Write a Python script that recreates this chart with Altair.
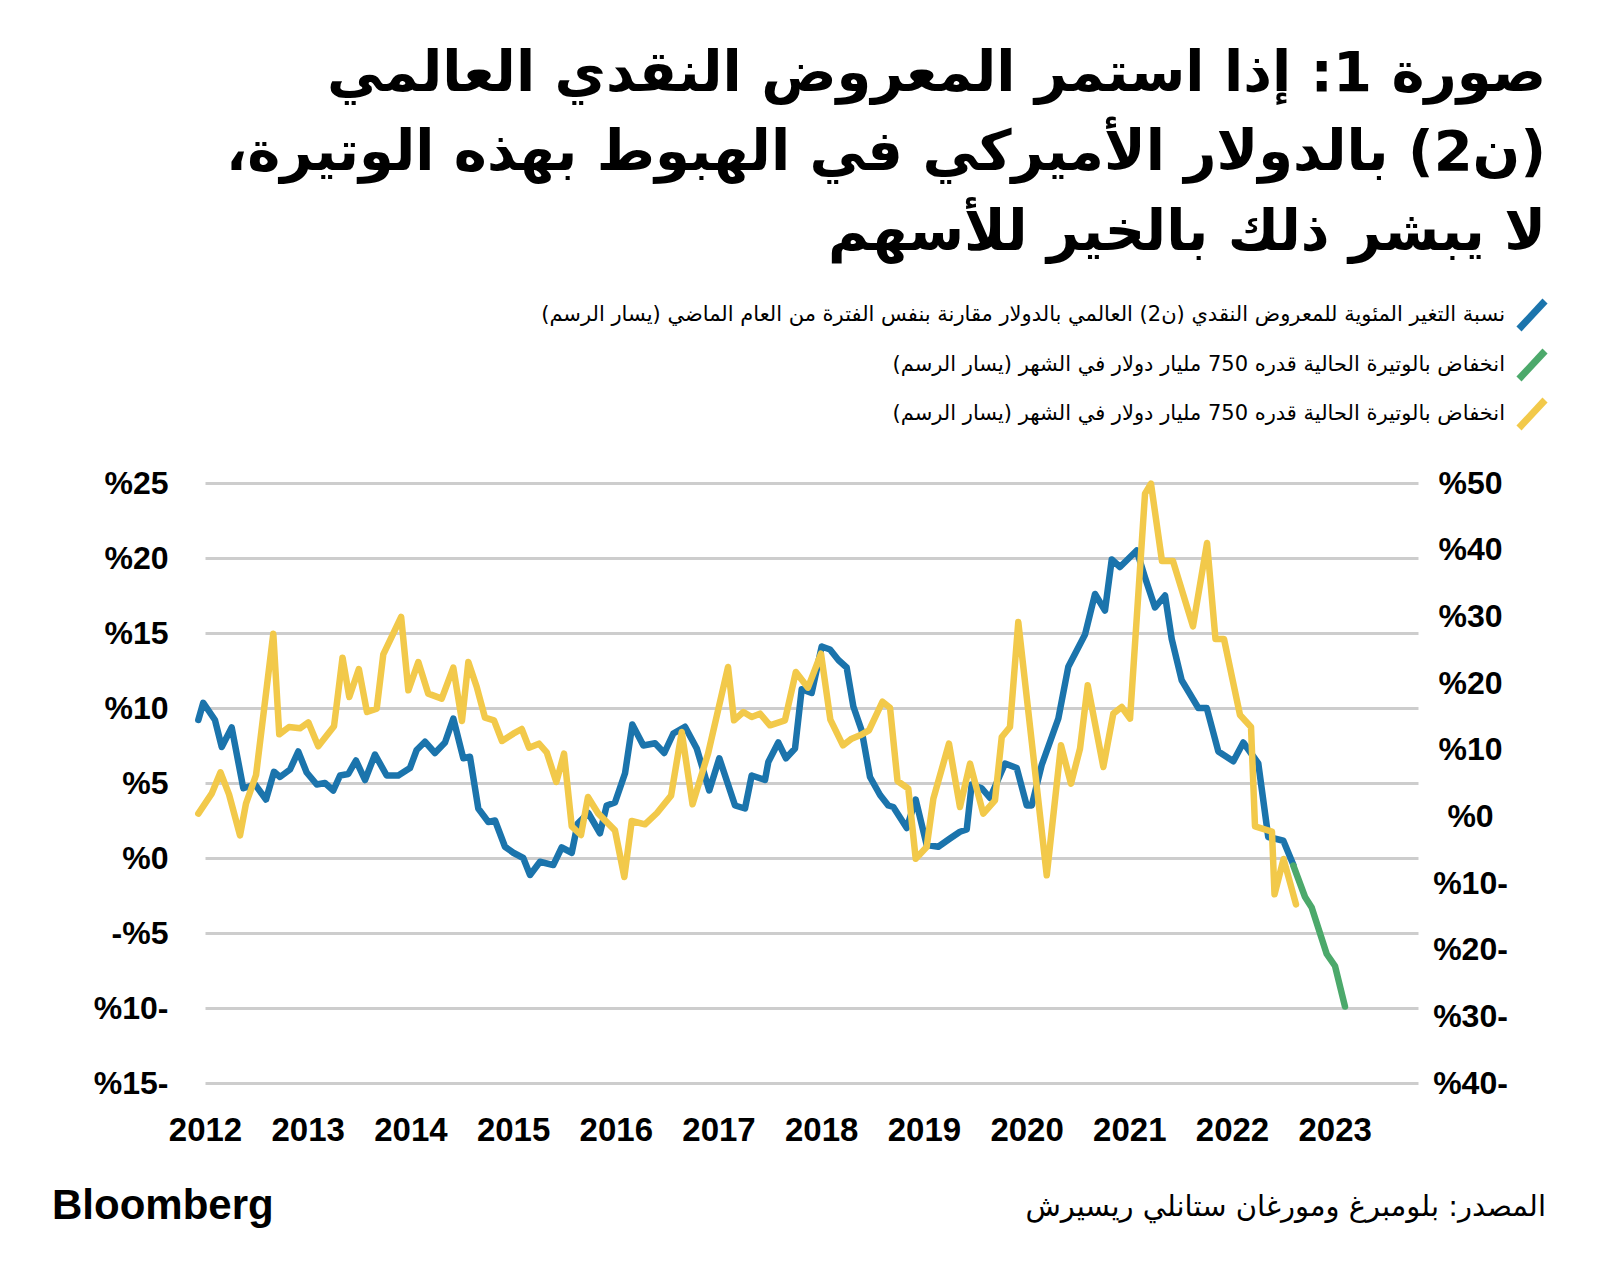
import altair as alt
import pandas as pd

# ---------------- data ----------------
years = list(range(2012, 2024))
left_ticks = [-15, -10, -5, 0, 5, 10, 15, 20, 25]
right_ticks = [-40, -30, -20, -10, 0, 10, 20, 30, 40, 50]

# Global M2 in USD, YoY % (left axis)
blue_t = [2011.935, 2011.983, 2012.097, 2012.163, 2012.260, 2012.373, 2012.487, 2012.594, 2012.672, 2012.730,
          2012.828, 2012.908, 2012.990, 2013.088, 2013.168, 2013.249, 2013.315, 2013.395, 2013.470, 2013.558,
          2013.655, 2013.769, 2013.882, 2013.996, 2014.061, 2014.142, 2014.239, 2014.337, 2014.418, 2014.515,
          2014.580, 2014.661, 2014.759, 2014.824, 2014.921, 2015.002, 2015.099, 2015.165, 2015.262, 2015.391,
          2015.473, 2015.571, 2015.629, 2015.732, 2015.846, 2015.911, 2015.992, 2016.090, 2016.161, 2016.268,
          2016.382, 2016.472, 2016.560, 2016.674, 2016.788, 2016.910, 2017.008, 2017.161, 2017.258, 2017.323,
          2017.453, 2017.485, 2017.582, 2017.657, 2017.745, 2017.810, 2017.907, 2018.005, 2018.086, 2018.167,
          2018.248, 2018.313, 2018.394, 2018.475, 2018.573, 2018.653, 2018.702, 2018.833, 2018.920, 2019.027,
          2019.140, 2019.254, 2019.351, 2019.417, 2019.465, 2019.563, 2019.644, 2019.790, 2019.904, 2020.001,
          2020.050, 2020.147, 2020.309, 2020.406, 2020.569, 2020.666, 2020.763, 2020.829, 2020.909, 2021.072,
          2021.153, 2021.250, 2021.348, 2021.413, 2021.510, 2021.672, 2021.754, 2021.867, 2022.013, 2022.110,
          2022.256, 2022.353, 2022.500, 2022.597]
blue_v = [9.2, 10.35, 9.2, 7.4, 8.7, 4.65, 4.9, 3.9, 5.75, 5.4,
          5.9, 7.1, 5.7, 4.9, 5.0, 4.5, 5.5, 5.6, 6.5, 5.2,
          6.9, 5.5, 5.5, 6.0, 7.2, 7.75, 7.0, 7.7, 9.3, 6.65,
          6.75, 3.3, 2.4, 2.5, 0.75, 0.35, 0.0, -1.13, -0.25, -0.47,
          0.7, 0.35, 2.3, 3.0, 1.65, 3.5, 3.7, 5.65, 8.9, 7.5,
          7.65, 7.0, 8.3, 8.75, 7.3, 4.5, 6.65, 3.5, 3.3, 5.5,
          5.2, 6.4, 7.7, 6.65, 7.3, 11.25, 11.0, 14.1, 13.9, 13.2,
          12.7, 10.1, 8.5, 5.4, 4.2, 3.5, 3.4, 2.0, 3.9, 0.87,
          0.75, 1.3, 1.75, 1.9, 4.9, 4.65, 4.0, 6.3, 6.0, 3.5,
          3.5, 6.2, 9.3, 12.75, 14.9, 17.6, 16.5, 19.9, 19.4, 20.5,
          18.7, 16.7, 17.5, 14.6, 11.85, 10.0, 10.0, 7.1, 6.45, 7.7,
          6.3, 1.4, 1.15, -0.45]

# Projection: decline at the current pace (left axis)
green_t = [2022.597, 2022.711, 2022.776, 2022.922, 2023.003, 2023.100]
green_v = [-0.5, -2.6, -3.3, -6.4, -7.2, -9.9]

# Stocks YoY % (right axis)
yellow_t = [2011.935, 2012.065, 2012.151, 2012.234, 2012.341, 2012.399, 2012.497, 2012.665, 2012.723, 2012.818,
            2012.925, 2013.006, 2013.103, 2013.256, 2013.339, 2013.405, 2013.498, 2013.577, 2013.672, 2013.736,
            2013.910, 2013.980, 2014.077, 2014.174, 2014.305, 2014.418, 2014.502, 2014.564, 2014.646, 2014.726,
            2014.814, 2014.892, 2015.002, 2015.084, 2015.155, 2015.252, 2015.327, 2015.421, 2015.496, 2015.571,
            2015.661, 2015.729, 2015.830, 2015.992, 2016.083, 2016.155, 2016.284, 2016.401, 2016.538, 2016.642,
            2016.747, 2016.898, 2017.093, 2017.151, 2017.242, 2017.323, 2017.404, 2017.501, 2017.647, 2017.753,
            2017.871, 2017.998, 2018.089, 2018.212, 2018.297, 2018.378, 2018.465, 2018.597, 2018.670, 2018.743,
            2018.848, 2018.920, 2019.027, 2019.092, 2019.244, 2019.351, 2019.449, 2019.578, 2019.692, 2019.758,
            2019.838, 2019.919, 2020.196, 2020.335, 2020.432, 2020.520, 2020.595, 2020.747, 2020.844, 2020.926,
            2021.007, 2021.153, 2021.211, 2021.318, 2021.425, 2021.620, 2021.757, 2021.839, 2021.922, 2022.019,
            2022.078, 2022.185, 2022.224, 2022.389, 2022.414, 2022.502, 2022.623]
yellow_v = [0.4, 3.4, 6.6, 3.3, -2.85, 1.9, 6.2, 27.4, 12.3, 13.4,
            13.2, 14.1, 10.5, 13.5, 23.8, 17.9, 22.1, 15.65, 16.15, 24.3,
            29.9, 18.9, 23.15, 18.4, 17.65, 22.3, 14.3, 23.15, 19.4, 14.8,
            14.4, 11.3, 12.4, 13.1, 10.3, 10.9, 9.6, 5.15, 9.4, -1.5,
            -2.8, 2.9, 0.4, -2.1, -9.1, -0.7, -1.2, 0.5, 3.1, 12.65,
            1.8, 9.4, 22.4, 14.4, 15.65, 14.9, 15.4, 13.65, 14.4, 21.65,
            19.3, 24.4, 14.5, 10.65, 11.65, 12.15, 12.9, 17.2, 16.3, 5.3,
            4.15, -6.35, -4.6, 2.65, 10.9, 1.4, 7.9, 0.4, 2.4, 11.9,
            13.4, 29.15, -8.85, 10.65, 4.9, 10.15, 19.65, 7.4, 15.4, 16.4,
            14.65, 48.4, 49.9, 38.3, 38.3, 28.5, 41.0, 26.6, 26.6, 19.5,
            15.2, 13.4, -1.5, -2.3, -11.7, -6.4, -13.2]

RLM = "\u200f"
title_lines = [
    "صورة 1: إذا استمر المعروض النقدي العالمي",
    "(ن2) بالدولار الأميركي في الهبوط بهذه الوتيرة،",
    "لا يبشر ذلك بالخير للأسهم",
]
legend_labels = [
    "نسبة التغير المئوية للمعروض النقدي (ن2) العالمي بالدولار مقارنة بنفس الفترة من العام الماضي (يسار الرسم)",
    "انخفاض بالوتيرة الحالية قدره 750 مليار دولار في الشهر (يسار الرسم)",
    "انخفاض بالوتيرة الحالية قدره 750 مليار دولار في الشهر (يسار الرسم)",
]
series_colors = ["#1B74AC", "#4CA96B", "#F2C94A"]
source_text = "المصدر: بلومبرغ ومورغان ستانلي ريسيرش"
brand_text = "Bloomberg"

# ---------------- chart ----------------
W, H = 1213, 600
LATIN = "Liberation Sans"
ARABIC = "DejaVu Sans"

m2_df = pd.DataFrame({
    "t": blue_t + green_t,
    "v": blue_v + green_v,
    "s": ["m2"] * len(blue_t) + ["pace"] * len(green_t),
})
spx_df = pd.DataFrame({"t": yellow_t, "v": yellow_v})

x_scale = alt.Scale(domain=[2012.0, 2023.811], nice=False, zero=False)
x_axis = alt.Axis(values=years, format="d", labelFlush=False, labelOverlap=False, grid=False,
                  domain=False, ticks=False, tickSize=0, labelPadding=31, labelFontSize=33,
                  labelFontWeight="bold", labelFont=LATIN, labelColor="#000000", title="")

left_expr = ("datum.value == -5 ? '-%5' : (datum.value < 0 ? '%' + (-datum.value) + '-' : '%' + datum.value)")
right_expr = ("datum.value < 0 ? '%' + (-datum.value) + '-' : '%' + datum.value")

m2_line = alt.Chart(m2_df).mark_line(strokeWidth=6.5, strokeCap="round", strokeJoin="round").encode(
    x=alt.X("t:Q", scale=x_scale, axis=x_axis),
    y=alt.Y("v:Q", scale=alt.Scale(domain=[-15, 25], nice=False, zero=False),
            axis=alt.Axis(orient="left", values=left_ticks, labelExpr=left_expr, grid=True,
                          gridColor="#CDCDCD", gridWidth=3, domain=False, ticks=False,
                          labelPadding=37, labelFontSize=32, labelFontWeight="bold", labelFont=LATIN,
                          labelColor="#000000", labelFlush=False, title="")),
    color=alt.Color("s:N", scale=alt.Scale(domain=["m2", "pace"], range=series_colors[:2]), legend=None),
)

spx_line = alt.Chart(spx_df).mark_line(strokeWidth=6.5, strokeCap="round", strokeJoin="round",
                                       color=series_colors[2]).encode(
    x=alt.X("t:Q", scale=x_scale, axis=x_axis),
    y=alt.Y("v:Q", scale=alt.Scale(domain=[-40, 50], nice=False, zero=False),
            axis=alt.Axis(orient="right", values=right_ticks, labelExpr=right_expr, grid=False,
                          domain=False, ticks=False, labelPadding=52, labelAlign="center",
                          labelFontSize=32, labelFontWeight="bold", labelFont=LATIN,
                          labelColor="#000000", labelFlush=False, title="")),
)


def text_layer(s, x, y, size, font, weight="normal", align="right", baseline="alphabetic"):
    return alt.Chart(pd.DataFrame({"label": [s]})).mark_text(
        fontSize=size, font=font, fontWeight=weight, align=align, baseline=baseline, color="#000000"
    ).encode(text="label:N", x=alt.value(x), y=alt.value(y))


layers = [m2_line, spx_line]

# title (3 lines, right aligned)
for line, yy in zip(title_lines, [-392, -313, -233]):
    layers.append(text_layer(RLM + line + RLM, 1341, yy, 56, ARABIC, weight="bold"))

# legend rows
legend_y = [-168, -118, -69]
for lab, col, yy in zip(legend_labels, series_colors, legend_y):
    layers.append(text_layer(RLM + lab + RLM, 1300, yy, 21, ARABIC, baseline="middle"))
    layers.append(alt.Chart(pd.DataFrame({"k": [0]})).mark_rule(strokeWidth=7, color=col, strokeCap="butt").encode(
        x=alt.value(1314), x2=alt.value(1340), y=alt.value(yy + 14), y2=alt.value(yy - 14)))

# footer
layers.append(text_layer(brand_text, -153, 736, 42, LATIN, weight="bold", align="left"))
layers.append(text_layer(RLM + source_text + RLM, 1341, 724, 29, ARABIC, baseline="middle"))

chart = alt.layer(*layers).resolve_scale(y="independent").properties(
    width=W, height=H,
    autosize=alt.AutoSizeParams(type="none"),
    padding={"left": 197, "top": 475, "right": 174, "bottom": 195},
    background="#FFFFFF",
).configure_view(stroke=None)

chart.save("out.html", embed_options={"renderer": "svg", "actions": False})
